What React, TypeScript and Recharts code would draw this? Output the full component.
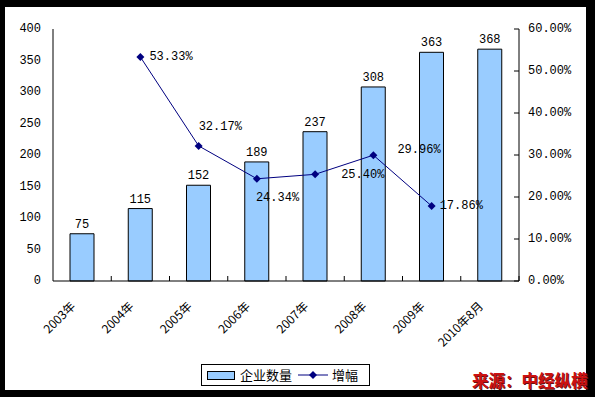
import React from "react";
import { ComposedChart, Bar, Line, XAxis, YAxis, LabelList } from "recharts";

const years = ["2003年", "2004年", "2005年", "2006年", "2007年", "2008年", "2009年", "2010年8月"];
const companyCounts = [75, 115, 152, 189, 237, 308, 363, 368];
const growthRates = [null, 0.5333, 0.3217, 0.2434, 0.254, 0.2996, 0.1786, null];
const leftTicks = [0, 50, 100, 150, 200, 250, 300, 350, 400];
const rightTicks = [0, 0.1, 0.2, 0.3, 0.4, 0.5, 0.6];

// label nudges for the growth line (as in the original sheet)
const labelDx = [0, 9, 0, -1, 26, 24, 8, 0];
const labelDy = [0, 0, -19, 19, 1, -5, 0, 0];

const data = years.map((year, i) => ({
  year,
  count: companyCounts[i],
  growth: growthRates[i],
}));

const MONO = "'Liberation Mono', 'DejaVu Sans Mono', monospace";
const SANS = "'Noto Sans CJK SC', 'Liberation Sans', sans-serif";
const BAND = 466 / years.length;

const LeftTick = (props: any) => {
  const { x, y, payload } = props;
  return (
    <text x={x} y={y} textAnchor="end" dominantBaseline="central" fontFamily={MONO} fontSize={12} fill="#000">
      {payload.value}
    </text>
  );
};

const RightTick = (props: any) => {
  const { x, y, payload } = props;
  return (
    <g>
      <line x1={x - 9} x2={x - 14} y1={y} y2={y} stroke="#000" />
      <text x={x} y={y} textAnchor="start" dominantBaseline="central" fontFamily={MONO} fontSize={12} fill="#000">
        {(payload.value * 100).toFixed(2) + "%"}
      </text>
    </g>
  );
};

const CategoryTick = (props: any) => {
  const { x, y, payload } = props;
  const ax = x - 6;
  const ay = y + 26;
  return (
    <g>
      <line x1={x + BAND / 2} x2={x + BAND / 2} y1={y} y2={y - 5} stroke="#000" />
      <text
        x={ax}
        y={ay}
        textAnchor="end"
        transform={`rotate(-45 ${ax} ${ay})`}
        fontFamily={SANS}
        fontSize={12}
        fill="#000"
      >
        {payload.value}
      </text>
    </g>
  );
};

const GrowthLabel = (props: any) => {
  const { x, y, value, index } = props;
  if (value == null) return null;
  return (
    <text
      x={x + labelDx[index]}
      y={y + labelDy[index]}
      textAnchor="start"
      dominantBaseline="central"
      fontFamily={MONO}
      fontSize={12}
      fill="#000"
    >
      {(value * 100).toFixed(2) + "%"}
    </text>
  );
};

const Diamond = (props: any) => {
  const { cx, cy } = props;
  if (cx == null || cy == null) return null;
  return <path d={`M${cx},${cy - 4}L${cx + 4},${cy}L${cx},${cy + 4}L${cx - 4},${cy}Z`} fill="#000080" />;
};

export default function App() {
  return (
    <div style={{ position: "absolute", left: 0, top: 0, width: 595, height: 397, background: "#000" }}>
      <div style={{ position: "absolute", left: 5, top: 7, width: 581, height: 383, background: "#fff" }} />
      <div style={{ position: "absolute", left: 0, top: 0 }}>
        <ComposedChart
          width={595}
          height={397}
          data={data}
          margin={{ top: 29, right: 0, left: 0, bottom: 0 }}
        >
          <XAxis
            dataKey="year"
            height={116}
            tick={<CategoryTick />}
            tickLine={false}
            tickSize={0}
            tickMargin={0}
            interval={0}
            axisLine={{ stroke: "#000" }}
          />
          <XAxis
            xAxisId="top"
            dataKey="year"
            orientation="top"
            height={0}
            tick={false}
            tickLine={false}
            axisLine={{ stroke: "#808080" }}
          />
          <YAxis
            yAxisId="left"
            width={53}
            domain={[0, 400]}
            ticks={leftTicks}
            tick={<LeftTick />}
            tickLine={false}
            tickSize={0}
            tickMargin={12}
            axisLine={{ stroke: "#000" }}
          />
          <YAxis
            yAxisId="right"
            orientation="right"
            width={76}
            domain={[0, 0.6]}
            ticks={rightTicks}
            tick={<RightTick />}
            tickLine={false}
            tickSize={0}
            tickMargin={9}
            axisLine={{ stroke: "#000" }}
          />
          <Bar
            yAxisId="left"
            dataKey="count"
            barSize={24}
            fill="#99ccff"
            stroke="#000"
            strokeWidth={1}
            isAnimationActive={false}
          >
            <LabelList
              dataKey="count"
              position="top"
              offset={6}
              style={{ fontFamily: MONO, fontSize: 12, fill: "#000" }}
            />
          </Bar>
          <Line
            yAxisId="right"
            dataKey="growth"
            stroke="#000080"
            strokeWidth={1}
            dot={<Diamond />}
            activeDot={false}
            label={<GrowthLabel />}
            isAnimationActive={false}
          />
        </ComposedChart>
      </div>
      <div
        style={{
          position: "absolute",
          left: 201,
          top: 364,
          width: 167,
          height: 20,
          border: "1px solid #000",
          background: "#fff",
          fontFamily: SANS,
          fontSize: 13,
          color: "#000",
          display: "flex",
          alignItems: "center",
          boxSizing: "content-box",
        }}
      >
        <span
          style={{
            display: "inline-block",
            width: 26,
            height: 7,
            marginLeft: 5,
            background: "#99ccff",
            border: "1px solid #000",
          }}
        />
        <span style={{ marginLeft: 5, lineHeight: "20px" }}>企业数量</span>
        <svg width={30} height={10} style={{ marginLeft: 6 }}>
          <line x1={0} x2={30} y1={5} y2={5} stroke="#000080" />
          <path d="M15,1L19,5L15,9L11,5Z" fill="#000080" />
        </svg>
        <span style={{ marginLeft: 4, lineHeight: "20px" }}>增幅</span>
      </div>
      <div
        style={{
          position: "absolute",
          left: 472,
          top: 370,
          fontFamily: SANS,
          fontWeight: 700,
          fontSize: 16.5,
          lineHeight: "20px",
          color: "#cc1111",
          textShadow: "1px 1px 0 #661111",
          whiteSpace: "nowrap",
        }}
      >
        来源：中经纵横
      </div>
    </div>
  );
}
